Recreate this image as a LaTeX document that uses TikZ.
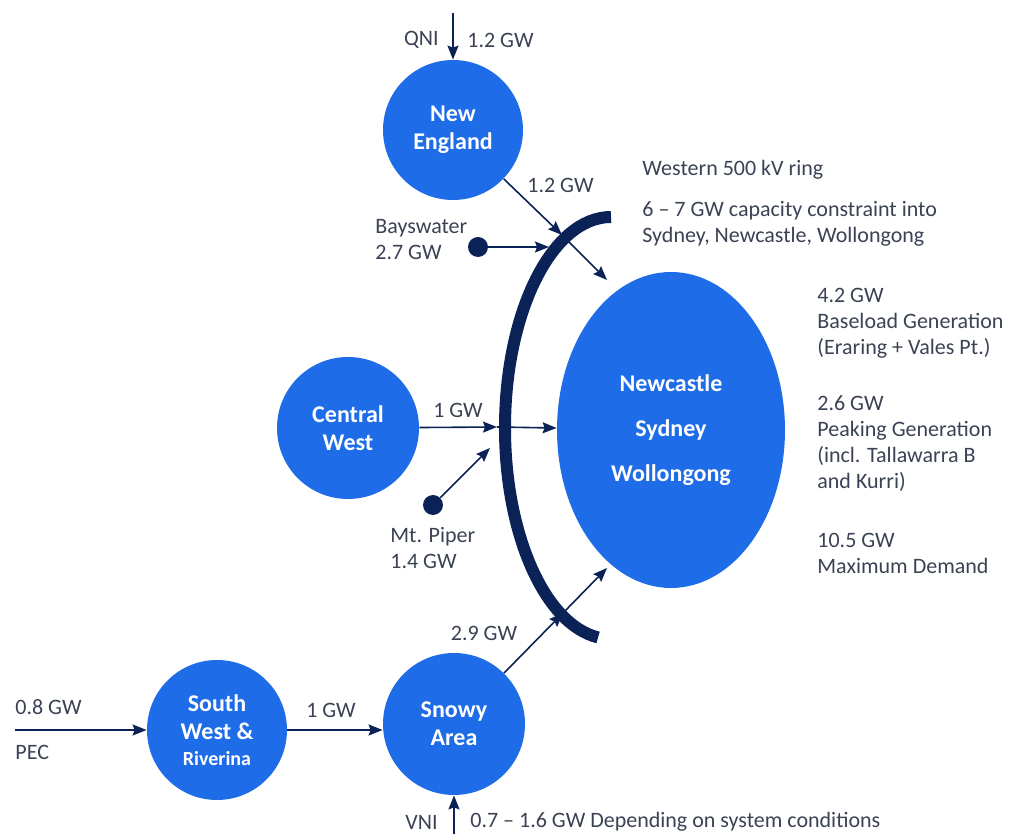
\documentclass[tikz,border=0pt]{standalone}
\usepackage{fontspec}
\setmainfont{Carlito}
\usetikzlibrary{arrows.meta,shapes.geometric}
\definecolor{regionblue}{RGB}{30,108,232}
\definecolor{ringnavy}{RGB}{10,34,86}
\definecolor{labelgrey}{RGB}{58,66,84}

\begin{document}
\begin{tikzpicture}[x=0.5pt,y=-0.5pt]
	\useasboundingbox (0,0) rectangle (1009,834);
	% regions
	\begin{scope}[every node/.style={circle,fill=regionblue,text=white,inner sep=0pt,align=center,
			font=\bfseries\fontsize{12}{14}\selectfont}]
		\node[minimum size=70pt] (NE) at (453,130) {New\\England};
		\node[minimum size=71pt] (CW) at (348,428) {Central\\West};
		\node[minimum size=70pt] (SW) at (217,730) {South\\West \&\\[-1pt]{\fontsize{10}{12}\selectfont Riverina}};
		\node[minimum size=71pt] (SA) at (454,724) {Snowy\\Area};
		\node[ellipse,minimum width=114pt,minimum height=158pt] (NSW) at (671,430) {Newcastle\\[8.5pt]Sydney\\[8.5pt]Wollongong};
	\end{scope}
	% power stations
	\begin{scope}[every node/.style={circle,fill=ringnavy,minimum size=10pt,inner sep=0pt}]
		\node (BW) at (478,247) {};
		\node (MP) at (433,505) {};
	\end{scope}
	% western 500 kV ring
	\draw[ringnavy,line width=6pt] (611,428) ++(270:106 and 211)
		arc[start angle=270,end angle=97,x radius=106,y radius=211];
	\coordinate (qni) at (453,13);
	\coordinate (pec) at (15,730);
	\coordinate (vni) at (454,834);
	\coordinate (rNE) at (562,235);
	\coordinate (rNEout) at (607,280);
	\coordinate (rBW) at (549,247);
	\coordinate (rCW) at (497,427);
	\coordinate (rMP) at (490,448);
	\coordinate (rSA) at (563,613);
	\coordinate (rSAout) at (607,568);
	\begin{scope}[>={Stealth[length=7pt,width=5.5pt,inset=1pt]},
			every edge/.style={draw=ringnavy,line width=0.8pt}]
		\path [->] (qni) edge (NE);
		\path [->] (NE) edge (rNE);
		\path [->] (rNE) edge (rNEout);
		\path [->] (BW) edge (rBW);
		\path [->] (CW) edge (rCW);
		\path [->] (rCW) edge (NSW);
		\path [->] (MP) edge (rMP);
		\path [->] (SA) edge (rSA);
		\path [->] (rSA) edge (rSAout);
		\path [->] (pec) edge (SW);
		\path [->] (SW.east) edge (SW.east -| SA.west);
		\path [->] (vni) edge (SA);
	\end{scope}
	% labels
	\begin{scope}[every node/.style={text=labelgrey,inner sep=0pt,align=left,
			font=\fontsize{11}{13}\selectfont}]
		\node[anchor=east] (qniL) at (439,40) {QNI};
		\node[anchor=west] (qniV) at (467,40) {1.2 GW};
		\node[anchor=west] (neV) at (527,185) {1.2 GW};
		\node[anchor=west] (bwL) at (375,240) {Bayswater\\2.7 GW};
		\node (cwV) at (458,410) {1 GW};
		\node[anchor=west] (mpL) at (390,548) {Mt. Piper\\1.4 GW};
		\node (saV) at (484,633) {2.9 GW};
		\node (swV) at (331,710) {1 GW};
		\node[anchor=west] (pecV) at (15,707) {0.8 GW};
		\node[anchor=west] (pecL) at (15,752) {PEC};
		\node[anchor=east] (vniL) at (438,822) {VNI};
		\node[anchor=west] (vniV) at (470,822) {0.7 -- 1.6 GW Depending on system conditions};
		\node[anchor=west] (ringL) at (642,170) {Western 500 kV ring};
		\node[anchor=west] (ringV) at (642,224) {6 -- 7 GW capacity constraint into\\Sydney, Newcastle, Wollongong};
		\node[anchor=west] (baseL) at (817,323) {4.2 GW\\Baseload Generation\\(Eraring + Vales Pt.)};
		\node[anchor=west] (peakL) at (817,444) {2.6 GW\\Peaking Generation\\(incl. Tallawarra B\\and Kurri)};
		\node[anchor=west] (demL) at (817,553) {10.5 GW\\Maximum Demand};
	\end{scope}
\end{tikzpicture}
\end{document}
